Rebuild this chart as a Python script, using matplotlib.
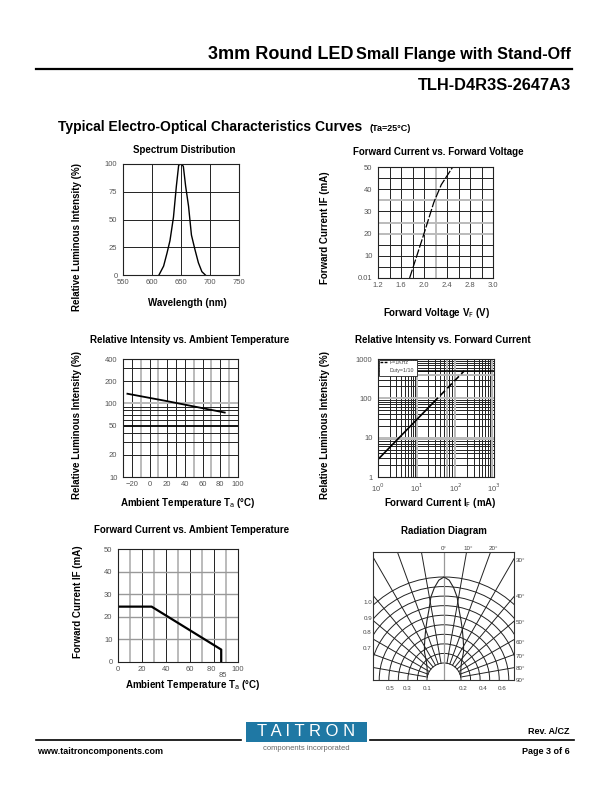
import numpy as np
import matplotlib
matplotlib.use("Agg")
import matplotlib.pyplot as plt
from matplotlib.patches import Rectangle, Arc

plt.rcParams['font.family'] = ['Liberation Sans', 'DejaVu Sans']

# ---- data ----
# spectrum distribution
wavelength = [612, 620, 626, 631, 637, 642, 646, 650, 654, 658, 663, 668, 674, 680, 686, 692]
spectrum = [0, 8, 20, 31, 52, 80, 99, 100, 98, 80, 62, 36, 23, 11, 3, 0]

# forward current vs forward voltage
vf = [1.75, 1.85, 2.0, 2.17, 2.3, 2.5]
if_vf = [0, 8, 20, 34, 42, 50]

# relative intensity vs ambient temperature
temp_rel = [-25, 20, 85]
rel_temp = [135, 107, 75]

# relative intensity vs forward current
if_rel = [1, 27, 170]
rel_if = [2.8, 78, 500]

# forward current derating vs ambient temperature
temp_der = [0, 28, 86, 86]
if_der = [24.5, 24.5, 5.5, 0]

# radiation pattern (relative radius vs angle from axis)
rad_angle = [0, 3, 6, 9, 12, 16, 20, 25, 30, 35, 45, 55, 65, 75]
rad_value = [1.0, 0.97, 0.9, 0.815, 0.7, 0.6, 0.52, 0.44, 0.38, 0.33, 0.24, 0.2, 0.18, 0.17]

W, H = 612, 792
fig = plt.figure(figsize=(W / 100, H / 100), dpi=100)
renderer = fig.canvas.get_renderer()

DARK = dict(color='#222222', lw=0.7)
GREY = dict(color='#bbbbbb', lw=1.4)


def box(l, t, r, b):
    return fig.add_axes([l / W, 1 - b / H, (r - l) / W, (b - t) / H])


def ftext(x, y, s, **kw):
    return fig.text(x / W, 1 - y / H, s, **kw)


def style(ax):
    ax.tick_params(length=0, labelsize=5.5, labelcolor='#555555')
    ax.tick_params(axis='x', pad=3)
    ax.tick_params(axis='y', pad=4)
    for s in ax.spines.values():
        s.set_color('#222222')
        s.set_linewidth(0.8)


# ---- header ----
sub = ftext(571, 59, 'Small Flange with Stand-Off', ha='right', va='baseline', fontsize=11.6, fontweight='bold')
x0 = sub.get_window_extent(renderer).x0
fig.text((x0 - 3) / W, 1 - 59 / H, '3mm Round LED', ha='right', va='baseline', fontsize=13, fontweight='bold')
fig.add_artist(plt.Line2D([36 / W, 572 / W], [1 - 69 / H, 1 - 69 / H], color='black', lw=1.6))
ftext(571, 90, 'TLH-D4R3S-2647A3', ha='right', va='baseline', fontsize=11.8, fontweight='bold')
ftext(58, 131, 'Typical Electro-Optical Characteristics Curves', ha='left', va='baseline', fontsize=10, fontweight='bold')
ftext(369, 131, '(Ta=25°C)', ha='left', va='baseline', fontsize=6.5, fontweight='bold')

# ---- 1. spectrum distribution ----
ax = box(123, 164, 239, 275)
style(ax)
for x in [600, 650, 700]:
    ax.axvline(x, **DARK)
for y in [25, 50, 75]:
    ax.axhline(y, **DARK)
ax.plot(wavelength, spectrum, color='black', lw=1.0)
ax.set_xlim(550, 750)
ax.set_ylim(0, 100)
ax.set_xticks([550, 600, 650, 700, 750])
ax.set_yticks([0, 25, 50, 75, 100])
ftext(184, 150, 'Spectrum Distribution', ha='center', va='center', fontsize=7, fontweight='bold')
ftext(187, 303, 'Wavelength (nm)', ha='center', va='center', fontsize=7, fontweight='bold')
ftext(77, 237, 'Relative Luminous Intensity (%)', ha='center', va='center', rotation=90, fontsize=7, fontweight='bold')

# ---- 2. forward current vs forward voltage ----
ax = box(378, 167, 493, 278)
style(ax)
for x in np.arange(1.4, 3.15, 0.2):
    ax.axvline(x, **(GREY if abs(x - 2.2) < 0.01 else DARK))
for y in range(5, 50, 5):
    ax.axhline(y, **(GREY if y in (20, 25, 35) else DARK))
ax.plot(vf, if_vf, color='black', lw=0.9, dashes=(7, 1.5))
ax.set_xlim(1.2, 3.2)
ax.set_ylim(0, 50)
ax.set_xticks([1.2, 1.6, 2.0, 2.4, 2.8, 3.2])
ax.set_xticklabels(['1.2', '1.6', '2.0', '2.4', '2.8', '3.0'])
ax.set_yticks([0, 10, 20, 30, 40, 50])
ax.set_yticklabels(['0.01', '10', '20', '30', '40', '50'])
ftext(438, 152, 'Forward Current vs. Forward Voltage', ha='center', va='center', fontsize=7, fontweight='bold')
ftext(437, 313, 'Forward Voltage V$_{\\mathrm{F}}$ (V)', ha='center', va='center', fontsize=7, fontweight='bold')
ftext(325, 228, 'Forward Current IF (mA)', ha='center', va='center', rotation=90, fontsize=7, fontweight='bold')

# ---- 3. relative intensity vs ambient temperature ----
ax = box(123, 359, 238, 477)
style(ax)
ax.set_yscale('log')
grey_t = [-10, 10, 50, 70, 90]
for x in range(-20, 100, 10):
    ax.axvline(x, **(GREY if x in grey_t else DARK))
for y in [20, 30, 40, 60, 70, 80, 90, 200, 300]:
    ax.axhline(y, **DARK)
ax.axhline(100, **GREY)
ax.axhline(50, color='black', lw=1.3)
ax.plot(temp_rel, rel_temp, color='black', lw=1.3)
ax.set_xlim(-30, 100)
ax.set_ylim(10, 400)
ax.set_xticks([-20, 0, 20, 40, 60, 80, 100])
ax.set_yticks([10, 20, 50, 100, 200, 400])
ax.set_yticklabels(['10', '20', '50', '100', '200', '400'])
ax.yaxis.set_minor_locator(matplotlib.ticker.NullLocator())
ftext(190, 340, 'Relative Intensity vs. Ambient Temperature', ha='center', va='center', fontsize=7, fontweight='bold')
ftext(188, 503, 'Ambient Temperature T$_{\\mathrm{a}}$ (°C)', ha='center', va='center', fontsize=7, fontweight='bold')
ftext(77, 425, 'Relative Luminous Intensity (%)', ha='center', va='center', rotation=90, fontsize=7, fontweight='bold')

# ---- 4. relative intensity vs forward current ----
ax = box(378, 359, 494, 477)
style(ax)
ax.set_xscale('log')
ax.set_yscale('log')
for d in [1, 10, 100]:
    for m in range(2, 10):
        ax.axvline(d * m, **DARK)
        ax.axhline(d * m, **DARK)
for x in [10, 100, 60, 900]:
    ax.axvline(x, **GREY)
for y in [9, 10, 100, 400]:
    ax.axhline(y, **GREY)
ax.axhline(500, color='black', lw=1.1)
ax.plot(if_rel[:2], rel_if[:2], color='black', lw=1.2)
ax.plot(if_rel[1:], rel_if[1:], color='black', lw=1.2, dashes=(4, 2))
ax.set_xlim(1, 1000)
ax.set_ylim(1, 1000)
ax.set_xticks([1, 10, 100, 1000])
ax.set_xticklabels(['10$^0$', '10$^1$', '10$^2$', '10$^3$'])
ax.set_yticks([1, 10, 100, 1000])
ax.set_yticklabels(['1', '10', '100', '1000'])
ax.xaxis.set_minor_locator(matplotlib.ticker.NullLocator())
ax.yaxis.set_minor_locator(matplotlib.ticker.NullLocator())
ax.add_patch(Rectangle((0.005, 0.86), 0.33, 0.135, transform=ax.transAxes,
                       facecolor='white', edgecolor='#222222', lw=0.6, zorder=5))
ax.plot([0.02, 0.09], [0.975, 0.975], transform=ax.transAxes, color='black', lw=1, dashes=(2, 1), zorder=6)
ax.text(0.1, 0.972, 'F=1KHz', transform=ax.transAxes, fontsize=3.8, va='center', color='#444444', zorder=6)
ax.text(0.1, 0.9, 'Duty=1/10', transform=ax.transAxes, fontsize=3.8, va='center', color='#444444', zorder=6)
ftext(443, 340, 'Relative Intensity vs. Forward Current', ha='center', va='center', fontsize=7, fontweight='bold')
ftext(440, 503, 'Forward Current I$_{\\mathrm{F}}$ (mA)', ha='center', va='center', fontsize=7, fontweight='bold')
ftext(325, 425, 'Relative Luminous Intensity (%)', ha='center', va='center', rotation=90, fontsize=7, fontweight='bold')

# ---- 5. forward current vs ambient temperature ----
ax = box(118, 549, 238, 662)
style(ax)
for x in range(10, 100, 10):
    ax.axvline(x, **(DARK if x % 20 == 0 else GREY))
for y in [10, 20, 30, 40]:
    ax.axhline(y, color='#999999', lw=1.0)
ax.plot(temp_der, if_der, color='black', lw=1.6)
ax.set_xlim(0, 100)
ax.set_ylim(0, 50)
ax.set_xticks([0, 20, 40, 60, 80, 100])
ax.set_xticklabels(['0', '20', '40', '60', '80   ', '100'])
ax.set_yticks([0, 10, 20, 30, 40, 50])
ax.text(87, -4.5, '85', fontsize=5.5, color='#555555', ha='center', va='top')
ftext(192, 530, 'Forward Current vs. Ambient Temperature', ha='center', va='center', fontsize=7, fontweight='bold')
ftext(193, 685, 'Ambient Temperature T$_{\\mathrm{a}}$ (°C)', ha='center', va='center', fontsize=7, fontweight='bold')
ftext(78, 602, 'Forward Current IF (mA)', ha='center', va='center', rotation=90, fontsize=7, fontweight='bold')

# ---- 6. radiation diagram ----
ax = box(373, 552, 514, 680)
ax.set_xlim(-71, 70)
ax.set_ylim(0, 128)
ax.set_xticks([])
ax.set_yticks([])
for s in ax.spines.values():
    s.set_color('#333333')
    s.set_linewidth(0.8)
rings = np.linspace(17, 103, 10)
for r in rings:
    ax.add_patch(Arc((0, 0), 2 * r, 2 * r, theta1=0, theta2=180, color='#222222', lw=0.7))
for a in range(-90, 91, 10):
    if a == 0:
        continue
    t = np.radians(a)
    ax.plot([17 * np.sin(t), 300 * np.sin(t)], [17 * np.cos(t), 300 * np.cos(t)], color='#222222', lw=0.7)
ax.axvline(0, color='#999999', lw=0.9)
th = np.radians(np.array(rad_angle))
rr = np.array(rad_value) * 103
ax.plot(np.concatenate([-rr[::-1] * np.sin(th[::-1]), rr[1:] * np.sin(th[1:])]),
        np.concatenate([rr[::-1] * np.cos(th[::-1]), rr[1:] * np.cos(th[1:])]),
        color='#222222', lw=0.8)
ftext(444, 531, 'Radiation Diagram', ha='center', va='center', fontsize=7, fontweight='bold')
for lab, x in [('0°', 444), ('10°', 468), ('20°', 493)]:
    ftext(x, 549, lab, ha='center', va='center', fontsize=4.5, color='#444444')
for lab, y in [('30°', 560), ('40°', 597), ('50°', 623), ('60°', 642), ('70°', 656), ('80°', 668), ('90°', 680)]:
    ftext(516, y, lab, ha='left', va='center', fontsize=4.5, color='#444444')
for lab, y in [('1.0', 603), ('0.9', 618), ('0.8', 633), ('0.7', 648)]:
    ftext(372, y, lab, ha='right', va='center', fontsize=4.5, color='#444444')
for lab, x in [('0.5', 390), ('0.3', 407), ('0.1', 427), ('0.2', 463), ('0.4', 483), ('0.6', 502)]:
    ftext(x, 689, lab, ha='center', va='center', fontsize=4.5, color='#444444')

# ---- footer ----
fig.add_artist(plt.Line2D([36 / W, 241 / W], [1 - 740 / H, 1 - 740 / H], color='black', lw=1.2))
fig.add_artist(plt.Line2D([370 / W, 574 / W], [1 - 740 / H, 1 - 740 / H], color='black', lw=1.2))
fig.add_artist(Rectangle((246 / W, 1 - 742 / H), 121 / W, 20 / H, transform=fig.transFigure,
                         facecolor='#1f78a4', edgecolor='none'))
ftext(306, 732, 'T A I T R O N', ha='center', va='center', fontsize=12, color='white')
ftext(306, 748, 'components incorporated', ha='center', va='center', fontsize=5.5, color='#666666')
ftext(570, 731, 'Rev. A/CZ', ha='right', va='center', fontsize=6.5, fontweight='bold')
ftext(37, 751, 'www.taitroncomponents.com', ha='left', va='center', fontsize=6.5, fontweight='bold')
ftext(570, 751, 'Page 3 of 6', ha='right', va='center', fontsize=6.5, fontweight='bold')

fig.savefig('out.png', dpi=100)
